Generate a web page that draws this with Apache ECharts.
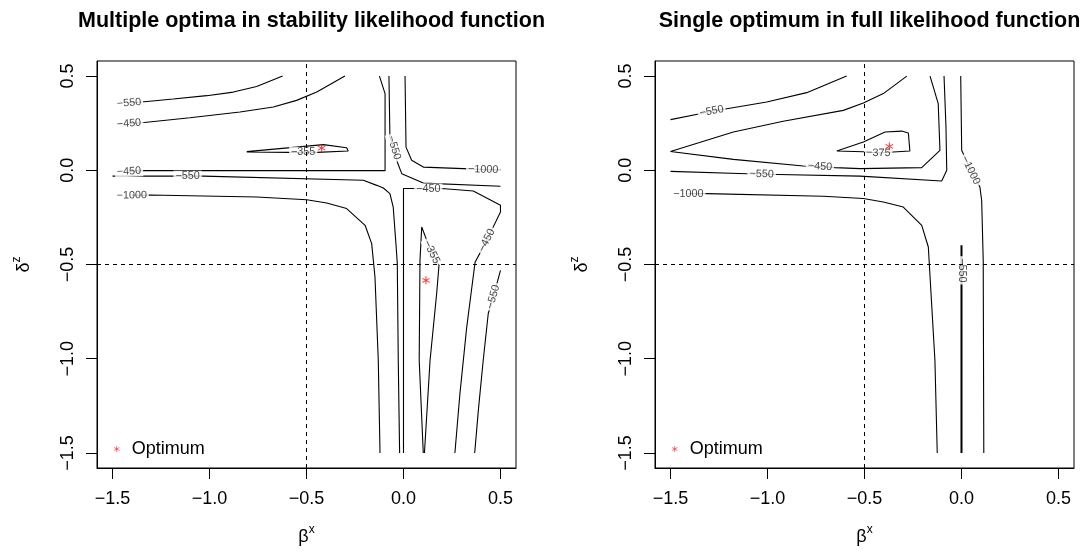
<!DOCTYPE html>
<html>
<head>
<meta charset="utf-8">
<title>Likelihood contours</title>
<script src="https://cdn.jsdelivr.net/npm/echarts@6/dist/echarts.min.js"></script>
<style>
  html, body { margin: 0; padding: 0; background: #fff; }
  #main { width: 1080px; height: 554px; }
</style>
</head>
<body>
<div id="main"></div>
<script>
// axis range and ticks, same for both panels
const axisTicks = [-1.5, -1.0, -0.5, 0.0, 0.5];
const axisMin = -1.58;
const axisMax = 0.58;
// dashed reference lines (true values)
const refBeta = -0.5;
const refDelta = -0.5;

// ---- stability likelihood (left), contour lines as [beta, delta]
const stab550Top = [[-1.415,0.357],[-1.336,0.364],[-1.187,0.378],[-1.014,0.396],[-0.877,0.415],[-0.757,0.445],[-0.623,0.5]];
const stab450Top = [[-1.415,0.248],[-1.336,0.254],[-1.101,0.279],[-0.843,0.309],[-0.671,0.336],[-0.551,0.371],[-0.447,0.415],[-0.302,0.5]];
const stab355Loop = [[-0.808,0.099],[-0.413,0.136],[-0.293,0.120],[-0.285,0.102],[-0.447,0.095],[-0.517,0.095],[-0.585,0.095],[-0.808,0.097]];
const stab450Mid = [[-1.415,-0.006],[-1.336,-0.002],[-0.095,-0.002],[-0.095,0.407],[-0.124,0.5]];
const stab550Mid = [[-1.5,-0.031],[-1.195,-0.031],[-1.113,-0.031],[-1.032,-0.031],[-0.207,-0.053],[-0.138,-0.080],[-0.104,-0.094],[-0.070,-0.124],[-0.053,-0.195],[-0.039,-0.389],[-0.032,-0.495],[-0.027,-1.008],[-0.02,-1.5]];
const stab1000Left = [[-1.401,-0.133],[-1.307,-0.131],[-0.757,-0.142],[-0.499,-0.156],[-0.396,-0.174],[-0.293,-0.203],[-0.198,-0.292],[-0.164,-0.389],[-0.147,-0.566],[-0.130,-1.008],[-0.121,-1.5]];
const stab550Upper = [[-0.075,0.5],[-0.070,0.176],[-0.049,0.120],[-0.032,0.044],[-0.009,-0.018],[0.102,-0.068],[0.5,-0.085]];
const stab1000Right = [[0.008,0.5],[0.013,0.123],[0.042,0.053],[0.102,0.017],[0.308,0.009],[0.411,0.004],[0.5,0.002]];
const stab450Right = [[0.0,-1.5],[0.0,-0.097],[0.042,-0.097],[0.128,-0.099],[0.197,-0.097],[0.360,-0.110],[0.5,-0.186],[0.5,-0.221],[0.429,-0.372],[0.369,-0.488],[0.326,-0.832],[0.291,-1.185],[0.265,-1.5]];
const stab355Right = [[0.102,-1.5],[0.081,-1.008],[0.085,-0.478],[0.094,-0.301],[0.120,-0.372],[0.145,-0.434],[0.183,-0.504],[0.171,-0.654],[0.137,-1.008],[0.108,-1.5]];
const stab550Right = [[0.5,-0.531],[0.463,-0.672],[0.437,-0.760],[0.411,-1.008],[0.386,-1.273],[0.367,-1.5]];
const stabOptima = [[-0.422,0.118],[0.116,-0.584]];
// [line, index of point carrying the label, text]
const stabLabels = [
  [stab550Top, 0, '\u2212550'], [stab450Top, 0, '\u2212450'], [stab355Loop, 5, '\u2212355'],
  [stab450Mid, 0, '\u2212450'], [stab550Mid, 2, '\u2212550'], [stab1000Left, 0, '\u22121000'],
  [stab550Upper, 2, '\u2212550'], [stab1000Right, 5, '\u22121000'], [stab450Right, 3, '\u2212450'],
  [stab450Right, 8, '\u2212450'], [stab355Right, 5, '\u2212355'], [stab550Right, 1, '\u2212550']
];

// ---- full likelihood (right)
const full550Top = [[-1.5,0.269],[-1.348,0.300],[-1.288,0.314],[-1.210,0.327],[-1.004,0.362],[-0.798,0.412],[-0.592,0.5]];
const full450Wedge = [[-0.282,0.5],[-0.403,0.407],[-0.506,0.357],[-0.609,0.318],[-0.919,0.260],[-1.176,0.203],[-1.5,0.100],[-1.176,0.058],[-0.815,0.023],[-0.729,0.020],[-0.652,0.014],[-0.523,0.009],[-0.205,0.014],[-0.111,0.106],[-0.120,0.354],[-0.162,0.5]];
const full550Mid = [[-1.5,-0.006],[-1.107,-0.018],[-1.030,-0.020],[-0.944,-0.022],[-0.523,-0.031],[-0.102,-0.057],[-0.076,0.0],[-0.080,0.229],[-0.090,0.5]];
const full1000Left = [[-1.408,-0.124],[-1.313,-0.124],[-0.712,-0.138],[-0.506,-0.150],[-0.403,-0.168],[-0.300,-0.195],[-0.205,-0.292],[-0.171,-0.407],[-0.137,-1.008],[-0.125,-1.5]];
const full1000Right = [[-0.004,0.5],[0.001,0.106],[0.047,0.0],[0.095,-0.089],[0.104,-0.159],[0.112,-0.478],[0.115,-1.5]];
const full550Stem = [[0.0,-0.398],[0.0,-0.531],[0.0,-1.5]];
const full375Loop = [[-0.643,0.102],[-0.506,0.150],[-0.394,0.203],[-0.308,0.208],[-0.274,0.198],[-0.266,0.102],[-0.352,0.097],[-0.429,0.092],[-0.506,0.098],[-0.643,0.102]];
const fullOptimum = [[-0.372,0.127]];
const fullLabels = [
  [full550Top, 2, '\u2212550'], [full450Wedge, 9, '\u2212450'], [full550Mid, 2, '\u2212550'],
  [full1000Left, 0, '\u22121000'], [full1000Right, 2, '\u22121000'], [full550Stem, 1, '\u2212550'],
  [full375Loop, 7, '\u2212375']
];

const titles = ['Multiple optima in stability likelihood function', 'Single optimum in full likelihood function'];

const FONT = "'Liberation Sans', Arial, Helvetica, sans-serif";
const STAR = 'path://M-0.6,-5L-0.6,5L0.6,5L0.6,-5Z M4.03,3.02L4.63,1.98L-4.03,-3.02L-4.63,-1.98Z M-4.63,1.98L-4.03,3.02L4.63,-1.98L4.03,-3.02Z';

const gridW = 419, gridH = 407;
const gridLefts = [97, 655];
const kx = gridW / (axisMax - axisMin);
const ky = gridH / (axisMax - axisMin);

function fmtTick(v) {
    return (v < 0 ? '\u2212' : '') + Math.abs(v).toFixed(1);
}

// label angle follows the contour, kept readable like R does
function labelItems(defs) {
    return defs.map(function (d) {
        const line = d[0], i = d[1];
        const a = line[Math.max(i - 1, 0)];
        const b = line[Math.min(i + 1, line.length - 1)];
        let ang = Math.atan2((b[1] - a[1]) * ky, (b[0] - a[0]) * kx) * 180 / Math.PI;
        while (ang >= 90) ang -= 180;
        while (ang < -90) ang += 180;
        return { value: [line[i][0], line[i][1], d[2]], label: { rotate: ang } };
    });
}

function contour(data, g, width) {
    return {
        type: 'line', xAxisIndex: g, yAxisIndex: g, data: data,
        symbol: 'none', showSymbol: false, silent: true, z: 2,
        lineStyle: { color: '#000', width: width || 1.1 }
    };
}

function axisName(main, sup) {
    return '{b|' + main + '}{s|' + sup + '}';
}
const nameStyle = {
    fontSize: 18, color: '#000', fontFamily: FONT,
    rich: {
        b: { fontSize: 18, color: '#000', fontFamily: FONT, lineHeight: 26, verticalAlign: 'middle' },
        s: { fontSize: 12, color: '#000', fontFamily: FONT, lineHeight: 12, verticalAlign: 'top' }
    }
};

function xAxisFor(g) {
    return {
        type: 'value', gridIndex: g, min: axisMin, max: axisMax,
        name: axisName('\u03b2', 'x'), nameLocation: 'middle', nameGap: 56, nameTextStyle: nameStyle,
        axisLine: { show: true, onZero: false, lineStyle: { color: '#000', width: 1 } },
        axisTick: { show: true, customValues: axisTicks, length: 11, lineStyle: { color: '#000' } },
        axisLabel: { customValues: axisTicks, formatter: fmtTick, fontSize: 18, color: '#000', fontFamily: FONT, margin: 22 },
        splitLine: { show: false }
    };
}
function yAxisFor(g) {
    return {
        type: 'value', gridIndex: g, min: axisMin, max: axisMax,
        name: axisName('\u03b4', 'z'), nameLocation: 'middle', nameRotate: 90, nameGap: 60, nameTextStyle: nameStyle,
        axisLine: { show: true, onZero: false, lineStyle: { color: '#000', width: 1 } },
        axisTick: { show: true, customValues: axisTicks, length: 11, lineStyle: { color: '#000' } },
        axisLabel: { customValues: axisTicks, formatter: fmtTick, fontSize: 18, color: '#000', fontFamily: FONT, margin: 20, rotate: 90 },
        splitLine: { show: false }
    };
}

function labelSeries(defs, g) {
    return {
        type: 'scatter', xAxisIndex: g, yAxisIndex: g, data: labelItems(defs),
        symbolSize: 1, itemStyle: { color: 'transparent' }, silent: true, z: 3,
        label: {
            show: true, position: 'inside', formatter: function (p) { return p.value[2]; },
            fontSize: 10.8, color: '#111', fontFamily: FONT, backgroundColor: '#fff', padding: [0, 2]
        }
    };
}

function optimumSeries(data, g) {
    return {
        type: 'scatter', name: 'Optimum', xAxisIndex: g, yAxisIndex: g, data: data,
        symbol: STAR, symbolSize: 8, itemStyle: { color: '#ff0000' }, z: 5,
        markLine: {
            silent: true, symbol: ['none', 'none'], label: { show: false },
            lineStyle: { color: '#000', width: 1, type: [4, 4] },
            data: [{ xAxis: refBeta }, { yAxis: refDelta }]
        }
    };
}

const series = [
    contour(stab550Top, 0), contour(stab450Top, 0), contour(stab355Loop, 0), contour(stab450Mid, 0),
    contour(stab550Mid, 0), contour(stab1000Left, 0), contour(stab550Upper, 0), contour(stab1000Right, 0),
    contour(stab450Right, 0), contour(stab355Right, 0), contour(stab550Right, 0),
    labelSeries(stabLabels, 0), optimumSeries(stabOptima, 0),
    contour(full550Top, 1), contour(full450Wedge, 1), contour(full550Mid, 1), contour(full1000Left, 1),
    contour(full1000Right, 1), contour(full550Stem, 1, 2), contour(full375Loop, 1),
    labelSeries(fullLabels, 1), optimumSeries(fullOptimum, 1)
];

const chart = echarts.init(document.getElementById('main'));
chart.setOption({
    animation: false,
    backgroundColor: '#fff',
    title: titles.map(function (t, i) {
        return {
            text: t, left: gridLefts[i] + gridW / 2, top: 5, textAlign: 'center',
            textStyle: { fontSize: 21.5, fontWeight: 'bold', color: '#000', fontFamily: FONT }
        };
    }),
    legend: gridLefts.map(function (l) {
        return {
            data: [{ name: 'Optimum', icon: STAR }], left: l + 12, top: 435,
            itemWidth: 6, itemHeight: 6, selectedMode: false,
            textStyle: { fontSize: 18, color: '#000', fontFamily: FONT, padding: [0, 0, 0, 7] }
        };
    }),
    grid: gridLefts.map(function (l) {
        return {
            left: l, top: 61, width: gridW, height: gridH, show: true,
            borderColor: '#000', borderWidth: 1, backgroundColor: 'transparent',
            outerBoundsMode: 'none'
        };
    }),
    xAxis: [xAxisFor(0), xAxisFor(1)],
    yAxis: [yAxisFor(0), yAxisFor(1)],
    series: series
});
</script>
</body>
</html>
